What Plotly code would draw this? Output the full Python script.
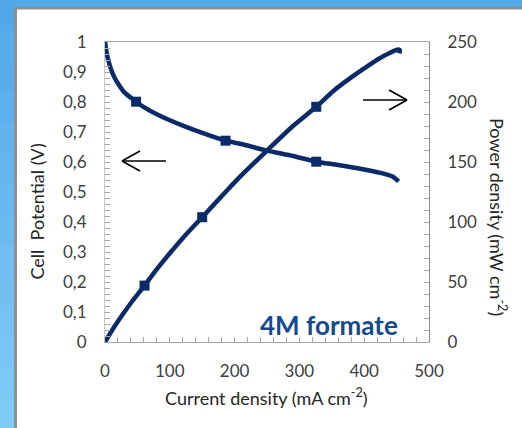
import plotly.graph_objects as go

# ---- data ----
current_v = [0, 2, 5, 10, 15, 20, 30, 40, 48, 60, 80, 100, 125, 150, 186, 210, 250, 290, 326, 360, 400, 430, 445, 453]
potential = [1.0, 0.97, 0.94, 0.905, 0.88, 0.862, 0.832, 0.814, 0.801, 0.783, 0.759, 0.739, 0.717, 0.697,
             0.671, 0.66, 0.638, 0.62, 0.601, 0.59, 0.575, 0.561, 0.55, 0.535]
current_v_markers = [48, 186, 326]
potential_markers = [0.801, 0.671, 0.601]

current_p = [0, 10, 20, 40, 61, 80, 100, 125, 150, 186, 210, 250, 290, 326, 352, 380, 404, 424, 440, 448, 453, 455, 454]
power = [0, 9, 17.3, 32.5, 47, 60.7, 73.9, 89.6, 104, 125, 138.6, 159.5, 180, 196, 209, 220.5, 229.5, 236.5,
         241, 243, 243.8, 243, 240.5]
current_p_markers = [61, 150, 326]
power_markers = [47, 104, 196]

x_ticks = [0, 100, 200, 300, 400, 500]
y_ticks = [0, 0.1, 0.2, 0.3, 0.4, 0.5, 0.6, 0.7, 0.8, 0.9, 1]
y_ticktext = ["0", "0,1", "0,2", "0,3", "0,4", "0,5", "0,6", "0,7", "0,8", "0,9", "1"]
y2_ticks = [0, 50, 100, 150, 200, 250]

NAVY = "#0b2a68"
W, H = 522, 428
L, R, T, B = 105, 93, 42, 86
PW, PH = W - L - R, H - T - B


def px(x):
    return (x - L) / PW


def py(y):
    return (H - B - y) / PH


fig = go.Figure()
fig.add_trace(go.Scatter(x=current_v, y=potential, mode="lines",
                         line=dict(color=NAVY, width=4.5, shape="spline", smoothing=0.6),
                         showlegend=False, hoverinfo="skip"))
fig.add_trace(go.Scatter(x=current_v_markers, y=potential_markers, mode="markers",
                         marker=dict(symbol="square", size=10, color=NAVY), showlegend=False))
fig.add_trace(go.Scatter(x=current_p, y=power, mode="lines", yaxis="y2",
                         line=dict(color=NAVY, width=4.5, shape="spline", smoothing=0.6),
                         showlegend=False, hoverinfo="skip"))
fig.add_trace(go.Scatter(x=current_p_markers, y=power_markers, mode="markers", yaxis="y2",
                         marker=dict(symbol="square", size=10, color=NAVY), showlegend=False))

shapes = []
# blue gradient backdrop
top_c = (0x53, 0xa8, 0xe8)
bot_c = (0x80, 0xca, 0xf7)
N = 14
for i in range(N):
    t = i / (N - 1)
    c = tuple(round(top_c[k] + (bot_c[k] - top_c[k]) * t) for k in range(3))
    y0 = H * i / N
    y1 = H * (i + 1) / N + 1
    shapes.append(dict(type="rect", xref="paper", yref="paper", x0=px(-5), x1=px(W + 5),
                       y0=py(y1), y1=py(y0), fillcolor="rgb(%d,%d,%d)" % c, line=dict(width=0),
                       layer="below"))
# gray border + white card
shapes.append(dict(type="rect", xref="paper", yref="paper", x0=px(14), x1=px(W + 5),
                   y0=py(H + 5), y1=py(7), fillcolor="#8f8f8f", line=dict(width=0), layer="below"))
shapes.append(dict(type="rect", xref="paper", yref="paper", x0=px(17), x1=px(W + 5),
                   y0=py(H + 5), y1=py(9.5), fillcolor="white", line=dict(width=0), layer="below"))

# arrows
arrow_line = dict(color="black", width=1.6)
for (x0, y0, x1, y1) in [(122, 161, 166, 161), (122, 161, 140, 151), (122, 161, 140, 171),
                         (363, 100, 407, 100), (407, 100, 389, 90), (407, 100, 389, 110)]:
    shapes.append(dict(type="line", xref="paper", yref="paper", x0=px(x0), y0=py(y0),
                       x1=px(x1), y1=py(y1), line=arrow_line))

tick_font = dict(family="Lato, Open Sans, sans-serif", size=17, color="#404040")
title_font = dict(family="Lato, Open Sans, sans-serif", size=18, color="#262626")

annotations = [
    dict(text="Cell  Potential (V)", x=px(36.5), y=py(212), xref="paper", yref="paper",
         textangle=-90, showarrow=False, font=title_font, xanchor="center", yanchor="middle"),
    dict(text="Power density (mW cm<sup>-2</sup>)", x=px(498), y=py(217), xref="paper", yref="paper",
         textangle=90, showarrow=False, font=title_font, xanchor="center", yanchor="middle"),
    dict(text="Current density (mA cm<sup>-2</sup>)", x=px(266), y=py(397), xref="paper", yref="paper",
         showarrow=False, font=title_font, xanchor="center", yanchor="middle"),
    dict(text="<b>4M formate</b>", x=px(329), y=py(325), xref="paper", yref="paper",
         showarrow=False, font=dict(family="Lato, Open Sans, sans-serif", size=26, color="#154a91"),
         xanchor="center", yanchor="middle"),
]

fig.update_layout(
    width=W, height=H,
    margin=dict(l=L, r=R, t=T, b=B, pad=0),
    paper_bgcolor="#6ab9ef",
    plot_bgcolor="rgba(0,0,0,0)",
    shapes=shapes,
    annotations=annotations,
    xaxis=dict(range=[0, 500], tickvals=x_ticks, ticks="inside", ticklen=5, tickcolor="#a6a6a6",
               showgrid=False, zeroline=False, showline=True, linecolor="#a6a6a6", linewidth=1,
               mirror=True, tickfont=tick_font, ticklabelstandoff=14,
               minor=dict(dtick=20, ticks="inside", ticklen=5, tickcolor="#a6a6a6")),
    yaxis=dict(range=[0, 1], tickvals=y_ticks, ticktext=y_ticktext, ticks="inside", ticklen=5,
               tickcolor="#a6a6a6", showgrid=False, zeroline=False, showline=True,
               linecolor="#c8c8c8", linewidth=1, tickfont=tick_font, ticklabelstandoff=14,
               minor=dict(dtick=0.02, ticks="inside", ticklen=5, tickcolor="#a6a6a6")),
    yaxis2=dict(range=[0, 250], tickvals=y2_ticks, overlaying="y", side="right", ticks="inside",
                ticklen=5, tickcolor="#a6a6a6", showgrid=False, zeroline=False, showline=True,
                linecolor="#8c8c8c", linewidth=1, tickfont=tick_font, ticklabelstandoff=14,
                minor=dict(dtick=10, ticks="inside", ticklen=5, tickcolor="#a6a6a6")),
)

fig.write_html("out.html", config={"displayModeBar": False},
               post_script="document.body.style.margin='0';document.body.style.padding='0';")
